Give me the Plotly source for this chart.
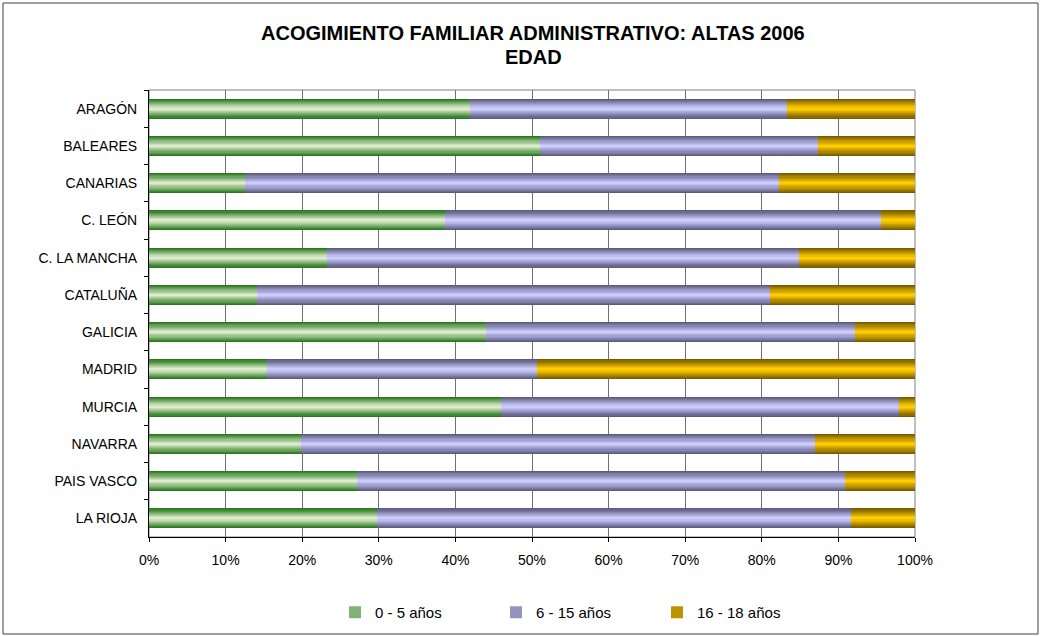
import plotly.graph_objects as go

categories = ["ARAGÓN", "BALEARES", "CANARIAS", "C. LEÓN", "C. LA MANCHA", "CATALUÑA",
              "GALICIA", "MADRID", "MURCIA", "NAVARRA", "PAIS VASCO", "LA RIOJA"]
age_0_5 = [41.9, 51.1, 12.5, 38.6, 23.2, 14.1, 44.0, 15.4, 45.9, 19.8, 27.2, 29.7]
age_6_15 = [41.4, 36.3, 69.7, 57.0, 61.6, 67.0, 48.2, 35.3, 52.0, 67.1, 63.6, 61.9]
age_16_18 = [16.7, 12.6, 17.8, 4.4, 15.2, 18.9, 7.8, 49.3, 2.1, 13.1, 9.2, 8.4]
series_names = ["0 - 5 años", "6 - 15 años", "16 - 18 años"]
x_ticks = [0, 10, 20, 30, 40, 50, 60, 70, 80, 90, 100]
title_lines = ["ACOGIMIENTO FAMILIAR ADMINISTRATIVO: ALTAS 2006", "EDAD"]

# gradient: edge colour -> centre colour
grads = [((40, 120, 30), (222, 236, 205)),
         ((92, 92, 128), (204, 204, 255)),
         ((122, 92, 0), (255, 204, 0))]

series = [age_0_5, age_6_15, age_16_18]
bases = []
acc = [0.0] * len(categories)
for s in series:
    bases.append(list(acc))
    acc = [a + v for a, v in zip(acc, s)]

FONT = "Arial, Liberation Sans, sans-serif"
L, R, T, B = 149, 915, 90, 537
PW, PH = R - L, B - T
W = 0.54
N = 9
fig = go.Figure()
for si, (vals, base, name, (c0, c1)) in enumerate(zip(series, bases, series_names, grads)):
    for k in range(N):
        t = k / (N - 1)
        col = tuple(int(round(c0[j] + (c1[j] - c0[j]) * t)) for j in range(3))
        w = W * (1 - k / N)
        fig.add_trace(go.Bar(
            y=categories, x=vals, base=base, orientation="h", width=w,
            marker=dict(color="rgb(%d,%d,%d)" % col, line=dict(width=0)),
            name=name, legendgroup=name, showlegend=(k == N // 2),
            hoverinfo="skip" if k else None,
        ))

def px_x(px):
    return (px - L) / PW

def px_y(py):
    return (B - py) / PH

# outer chart border
fig.add_shape(type="rect", xref="paper", yref="paper",
              x0=px_x(3), x1=px_x(1038), y0=px_y(634), y1=px_y(3),
              line=dict(color="#404040", width=1), layer="below")
# plot area border
fig.add_shape(type="rect", xref="paper", yref="paper", x0=0, x1=1, y0=0, y1=1,
              line=dict(color="#808080", width=1), layer="below")

# title lines
for txt, ty in zip(title_lines, [33, 57]):
    fig.add_annotation(text="<b>%s</b>" % txt, xref="paper", yref="paper",
                       x=px_x(533), y=px_y(ty), xanchor="center", yanchor="middle",
                       showarrow=False, font=dict(family=FONT, size=20, color="black"))

fig.update_layout(
    width=1042, height=636,
    barmode="overlay",
    bargap=0,
    paper_bgcolor="white", plot_bgcolor="white",
    margin=dict(l=L, r=1042 - R, t=T, b=636 - B, autoexpand=False),
    font=dict(family=FONT, size=14, color="black"),
    legend=dict(orientation="h", x=px_x(335), xanchor="left", y=px_y(596), yanchor="top",
                font=dict(family=FONT, size=15), entrywidth=116, traceorder="normal",
                bgcolor="rgba(0,0,0,0)", itemclick=False),
    showlegend=True,
)
fig.update_xaxes(range=[0, 100], tickvals=x_ticks, ticktext=[f"{v}%" for v in x_ticks],
                 showgrid=True, gridcolor="#707070", gridwidth=1,
                 showline=True, linecolor="black", linewidth=1,
                 ticks="outside", ticklen=4, tickcolor="black", zeroline=False,
                 ticklabelstandoff=6,
                 tickfont=dict(family=FONT, size=14))
fig.update_yaxes(type="category", autorange="reversed", tickson="boundaries",
                 showline=True, linecolor="black", linewidth=1,
                 ticks="outside", ticklen=4, tickcolor="black", showgrid=False,
                 ticklabelstandoff=8,
                 tickfont=dict(family=FONT, size=14))

fig.write_html("out.html", config={"displayModeBar": False},
               post_script="document.body.style.margin='0';document.body.style.overflow='hidden';")
